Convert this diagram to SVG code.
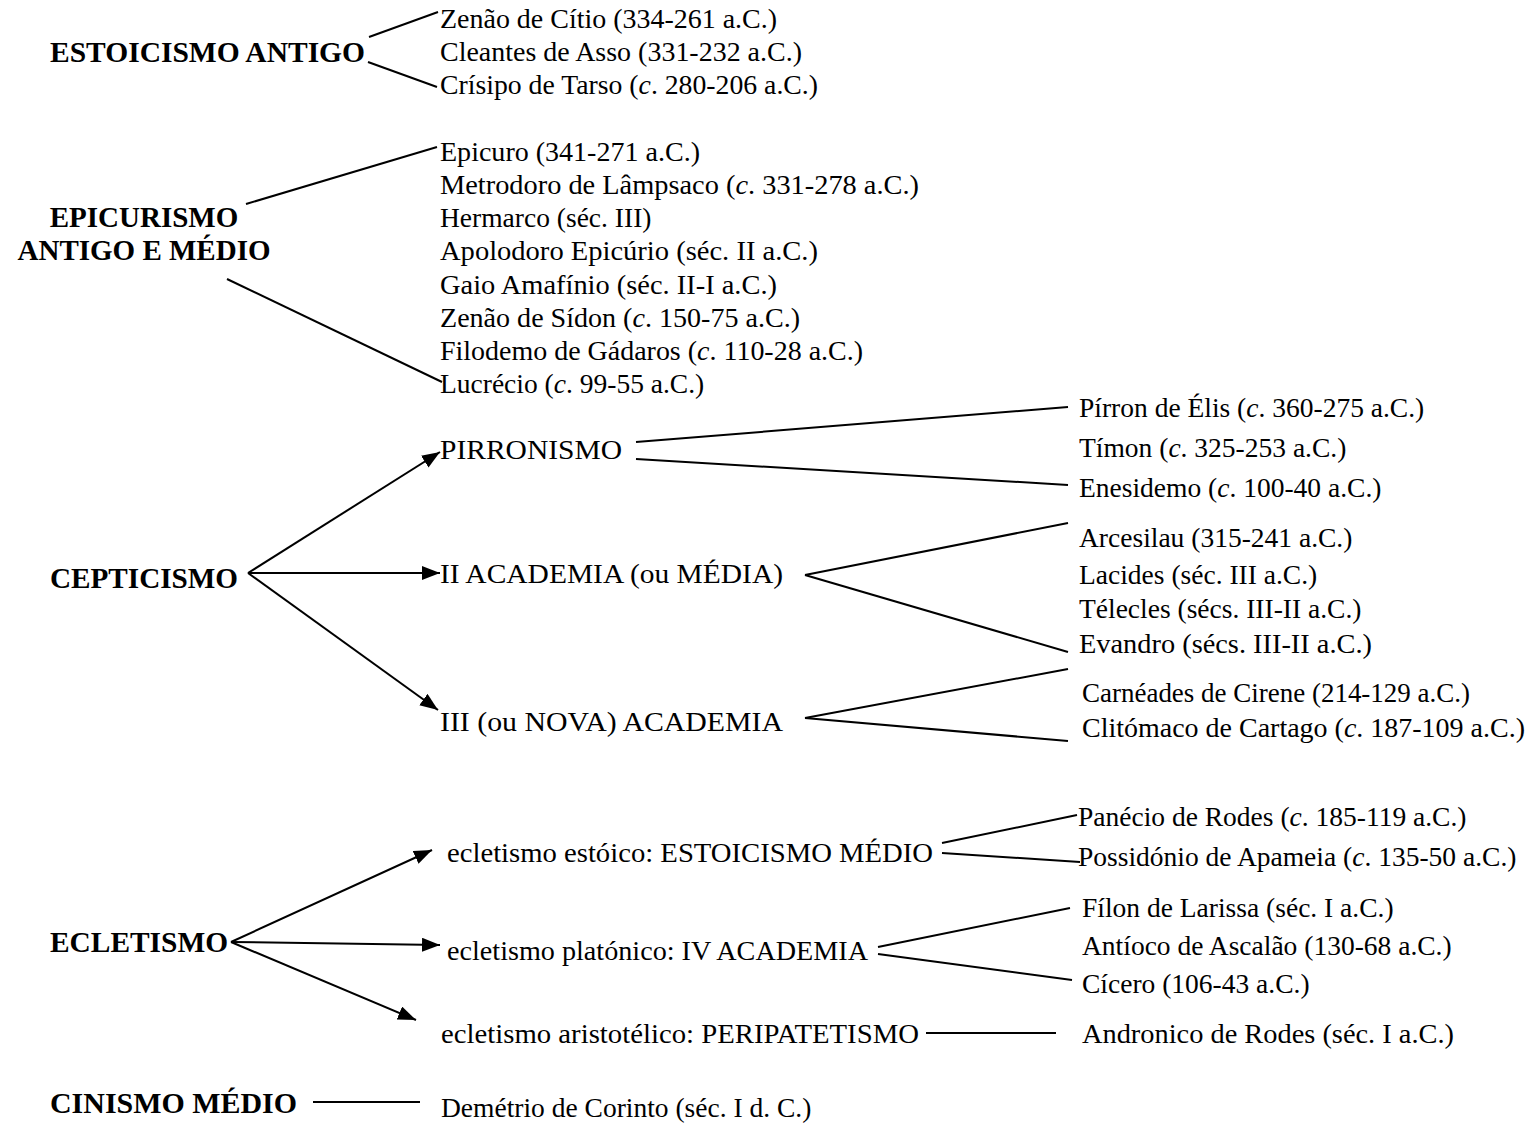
<svg xmlns="http://www.w3.org/2000/svg" width="1533" height="1148" viewBox="0 0 1533 1148">
<style>
text{font-family:"Liberation Serif","Times New Roman",serif;fill:#000}
.t{font-size:27.5px}
.b{font-size:29px;font-weight:bold}
.i{font-style:italic}
.c line{stroke:#000;stroke-width:2}
</style>
<defs>
<marker id="ah" markerUnits="userSpaceOnUse" markerWidth="20" markerHeight="16" refX="18" refY="7" orient="auto">
<path d="M0,0 L18,7 L0,14 Z" fill="#000"/>
</marker>
</defs>
<rect width="1533" height="1148" fill="#fff"/>
<g class="c" id="connectors">
<line x1="369" y1="37" x2="438" y2="12"/>
<line x1="368" y1="62" x2="437" y2="87"/>
<line x1="246" y1="204" x2="437" y2="147"/>
<line x1="227" y1="279" x2="442" y2="382"/>
<line x1="248" y1="573" x2="440" y2="452" marker-end="url(#ah)"/>
<line x1="248" y1="573" x2="440" y2="573" marker-end="url(#ah)"/>
<line x1="248" y1="573" x2="438" y2="710" marker-end="url(#ah)"/>
<line x1="636" y1="442" x2="1068" y2="407"/>
<line x1="636" y1="459" x2="1068" y2="485"/>
<line x1="805" y1="575" x2="1068" y2="523"/>
<line x1="805" y1="575" x2="1068" y2="652"/>
<line x1="805" y1="718" x2="1068" y2="669"/>
<line x1="805" y1="718" x2="1068" y2="741"/>
<line x1="231" y1="942" x2="432" y2="850" marker-end="url(#ah)"/>
<line x1="231" y1="942" x2="440" y2="945" marker-end="url(#ah)"/>
<line x1="231" y1="942" x2="416" y2="1020" marker-end="url(#ah)"/>
<line x1="942" y1="843" x2="1077" y2="815"/>
<line x1="942" y1="853" x2="1080" y2="862"/>
<line x1="878" y1="947" x2="1070" y2="908"/>
<line x1="878" y1="954" x2="1072" y2="980"/>
<line x1="926" y1="1033" x2="1056" y2="1033"/>
<line x1="313" y1="1102" x2="420" y2="1102"/>
</g>
<g id="estoicismo-antigo">
<text class="b" x="50" y="62" textLength="315" lengthAdjust="spacingAndGlyphs">ESTOICISMO ANTIGO</text>
<text class="t" x="440" y="28" textLength="337" lengthAdjust="spacingAndGlyphs">Zenão de Cítio (334-261 a.C.)</text>
<text class="t" x="440" y="61" textLength="362" lengthAdjust="spacingAndGlyphs">Cleantes de Asso (331-232 a.C.)</text>
<text class="t" x="440" y="94" textLength="378" lengthAdjust="spacingAndGlyphs">Crísipo de Tarso (<tspan class="i">c</tspan>. 280-206 a.C.)</text>
</g>
<g id="epicurismo">
<text class="b" x="144" y="227" text-anchor="middle">EPICURISMO</text>
<text class="b" x="144" y="260" text-anchor="middle">ANTIGO E MÉDIO</text>
<text class="t" x="440" y="161" textLength="260" lengthAdjust="spacingAndGlyphs">Epicuro (341-271 a.C.)</text>
<text class="t" x="440" y="194" textLength="479" lengthAdjust="spacingAndGlyphs">Metrodoro de Lâmpsaco (<tspan class="i">c</tspan>. 331-278 a.C.)</text>
<text class="t" x="440" y="227">Hermarco (séc. III)</text>
<text class="t" x="440" y="260" textLength="378" lengthAdjust="spacingAndGlyphs">Apolodoro Epicúrio (séc. II a.C.)</text>
<text class="t" x="440" y="294" textLength="337" lengthAdjust="spacingAndGlyphs">Gaio Amafínio (séc. II-I a.C.)</text>
<text class="t" x="440" y="327" textLength="360" lengthAdjust="spacingAndGlyphs">Zenão de Sídon (<tspan class="i">c</tspan>. 150-75 a.C.)</text>
<text class="t" x="440" y="360" textLength="423" lengthAdjust="spacingAndGlyphs">Filodemo de Gádaros (<tspan class="i">c</tspan>. 110-28 a.C.)</text>
<text class="t" x="440" y="393">Lucrécio (<tspan class="i">c</tspan>. 99-55 a.C.)</text>
</g>
<g id="cepticismo">
<text class="b" x="50" y="588" textLength="188" lengthAdjust="spacingAndGlyphs">CEPTICISMO</text>
</g>
<g id="pirronismo">
<text class="t" x="440" y="459" textLength="182" lengthAdjust="spacingAndGlyphs">PIRRONISMO</text>
<text class="t" x="1079" y="417">Pírron de Élis (<tspan class="i">c</tspan>. 360-275 a.C.)</text>
<text class="t" x="1079" y="457">Tímon (<tspan class="i">c</tspan>. 325-253 a.C.)</text>
<text class="t" x="1079" y="497">Enesidemo (<tspan class="i">c</tspan>. 100-40 a.C.)</text>
</g>
<g id="academia-media">
<text class="t" x="440" y="583" textLength="343" lengthAdjust="spacingAndGlyphs">II ACADEMIA (ou MÉDIA)</text>
<text class="t" x="1079" y="547">Arcesilau (315-241 a.C.)</text>
<text class="t" x="1079" y="584">Lacides (séc. III a.C.)</text>
<text class="t" x="1079" y="618">Télecles (sécs. III-II a.C.)</text>
<text class="t" x="1079" y="653" textLength="293" lengthAdjust="spacingAndGlyphs">Evandro (sécs. III-II a.C.)</text>
</g>
<g id="academia-nova">
<text class="t" x="440" y="731" textLength="343" lengthAdjust="spacingAndGlyphs">III (ou NOVA) ACADEMIA</text>
<text class="t" x="1082" y="702" textLength="388" lengthAdjust="spacingAndGlyphs">Carnéades de Cirene (214-129 a.C.)</text>
<text class="t" x="1082" y="737" textLength="443" lengthAdjust="spacingAndGlyphs">Clitómaco de Cartago (<tspan class="i">c</tspan>. 187-109 a.C.)</text>
</g>
<g id="ecletismo">
<text class="b" x="50" y="952" textLength="178" lengthAdjust="spacingAndGlyphs">ECLETISMO</text>
</g>
<g id="estoicismo-medio">
<text class="t" x="447" y="862" textLength="486" lengthAdjust="spacingAndGlyphs">ecletismo estóico: ESTOICISMO MÉDIO</text>
<text class="t" x="1078" y="826">Panécio de Rodes (<tspan class="i">c</tspan>. 185-119 a.C.)</text>
<text class="t" x="1078" y="866">Possidónio de Apameia (<tspan class="i">c</tspan>. 135-50 a.C.)</text>
</g>
<g id="academia-iv">
<text class="t" x="447" y="960" textLength="421" lengthAdjust="spacingAndGlyphs">ecletismo platónico: IV ACADEMIA</text>
<text class="t" x="1082" y="917">Fílon de Larissa (séc. I a.C.)</text>
<text class="t" x="1082" y="955">Antíoco de Ascalão (130-68 a.C.)</text>
<text class="t" x="1082" y="993">Cícero (106-43 a.C.)</text>
</g>
<g id="peripatetismo">
<text class="t" x="441" y="1043" textLength="478" lengthAdjust="spacingAndGlyphs">ecletismo aristotélico: PERIPATETISMO</text>
<text class="t" x="1082" y="1043" textLength="372" lengthAdjust="spacingAndGlyphs">Andronico de Rodes (séc. I a.C.)</text>
</g>
<g id="cinismo">
<text class="b" x="50" y="1113" textLength="247" lengthAdjust="spacingAndGlyphs">CINISMO MÉDIO</text>
<text class="t" x="441" y="1117">Demétrio de Corinto (séc. I d. C.)</text>
</g>
</svg>
